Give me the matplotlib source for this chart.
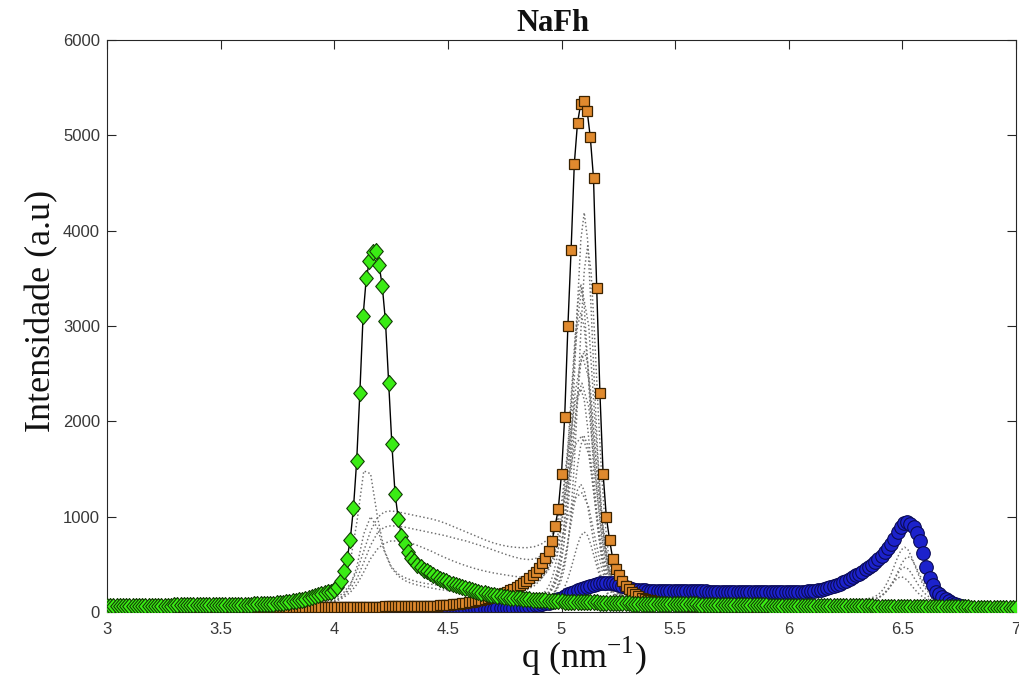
import numpy as np
import matplotlib
matplotlib.use("Agg")
import matplotlib.pyplot as plt

plt.rcParams['mathtext.fontset'] = 'custom'
plt.rcParams['mathtext.rm'] = 'Liberation Serif'

# ---------------- data ----------------
q_min, q_max = 3.0, 7.0

green = [
    64, 64, 64, 64, 65, 65, 65, 65, 65, 66,
    66, 66, 66, 67, 67, 67, 67, 68, 68, 68,
    68, 69, 69, 69, 70, 70, 70, 70, 71, 71,
    71, 72, 72, 72, 73, 73, 74, 74, 75, 75,
    76, 76, 77, 77, 78, 78, 79, 79, 80, 81,
    82, 84, 87, 90, 93, 97, 101, 106, 111, 117,
    124, 131, 139, 148, 158, 168, 178, 188, 197, 206, 215,
    230, 265, 330, 430, 555, 760, 1090, 1580, 2300,
    3100, 3500, 3680, 3780, 3790, 3640, 3420, 3050, 2400, 1760,
    1240, 980, 800, 715, 630, 570, 530, 490, 470, 445,
    425, 405, 385, 368, 350, 335, 320, 307, 295, 283,
    270, 258, 247, 237, 227, 218, 210, 202, 195, 188,
    182, 176, 170, 165, 160, 156, 152, 148, 145, 142,
    139, 136, 133, 130, 128, 125, 123, 121, 119, 117,
    115, 113, 111,
    110, 109, 108, 107, 106, 105, 104, 103, 102, 101,
    100, 99, 98, 97, 96, 95, 94, 93, 92, 91,
    90, 89, 89, 88, 88, 87, 87, 86, 86, 85,
    85, 84, 84, 83, 83, 82, 82, 81, 80, 80,
    79, 79, 78, 78, 77, 77, 76, 76, 75, 75,
    74, 74, 73, 73, 72, 72, 71, 71, 70, 70,
    70, 69, 69, 69, 68, 68, 68, 67, 67, 67,
    66, 66, 66, 65, 65, 65, 64, 64, 64, 63,
    63, 63, 62, 62, 62, 61, 61, 61, 60, 60,
    60, 59, 59, 59, 58, 58, 58, 57, 57, 57,
    56, 56, 56, 55, 55, 55, 54, 54, 54, 53,
    53, 53, 52, 52, 52, 51, 51, 51, 50, 50,
    50, 49, 49, 49, 48, 48, 48, 47, 47, 47,
    46, 46, 46, 46, 45, 45, 45, 45, 45, 45, 45, 45]

orange = [
    45, 45, 45, 45, 45, 45, 45, 46, 46, 46,
    46, 46, 46, 46, 47, 47, 47, 47, 47, 47,
    47, 48, 48, 48, 48, 48, 48, 48, 49, 49,
    49, 49, 49, 49, 49, 50, 50, 50, 50, 50,
    50, 50, 51, 51, 51, 51, 51, 51, 52, 52,
    52, 52, 52, 52, 52, 53, 53, 53, 53, 53,
    53, 53, 54, 54, 54, 54, 54, 54, 54, 55,
    55, 55, 55, 55, 55, 55, 56, 56, 56, 56,
    56, 56, 57, 57, 57, 57, 57, 58, 58, 58,
    58, 59, 59, 59, 60, 60, 60, 61, 61, 62,
    62, 64, 66, 68, 70, 72, 75, 78, 81, 85,
    89, 93, 98, 103, 108, 114, 121, 128, 136, 144,
    153, 163, 174, 186, 199, 213, 228, 244, 262, 282,
    303, 328, 355, 385, 418, 460, 510, 565, 640, 740,
    900, 1080, 1450, 2050, 3000, 3800, 4700, 5130, 5330, 5360,
    5260, 4980, 4550, 3400, 2300, 1450, 1000, 760, 560, 455,
    385, 320, 275, 240, 210, 185, 165, 150, 140, 130,
    122, 115, 108, 102, 97, 92, 88, 84, 80, 77,
    74, 71, 68, 66, 64, 62, 60, 58, 57, 56,
    55, 54, 53, 52, 51, 50, 50, 49, 49, 48,
    48, 47, 47, 47, 46, 46, 46, 45, 45, 45,
    45, 45, 44, 44, 44, 44, 44, 43, 43, 43,
    43, 43, 43, 43, 42, 42, 42, 42, 42, 42,
    42, 42, 42, 41, 41, 41, 41, 41, 41, 41,
    41, 41, 41, 41, 41, 41, 40, 40, 40, 40,
    40, 40, 40, 40, 40, 40, 40, 40, 40, 40,
    40, 40, 40, 40, 40, 40, 40, 40, 40, 40,
    40, 40, 40, 40, 40, 40, 40, 40, 40, 40,
    40, 40, 40, 40, 40]

blue = [
    8, 8, 8, 8, 8, 8, 8, 8, 8, 8,
    8, 8, 8, 9, 9, 9, 9, 9, 9, 9,
    9, 9, 9, 9, 10, 10, 10, 10, 10, 10,
    10, 10, 10, 10, 11, 11, 11, 11, 11, 11,
    11, 11, 12, 12, 12, 12, 12, 12, 12, 13,
    13, 13, 13, 13, 13, 14, 14, 14, 14, 14,
    14, 15, 15, 15, 15, 15, 16, 16, 16, 16,
    16, 17, 17, 17, 17, 18, 18, 18, 18, 19,
    19, 19, 19, 20, 20, 20, 20, 21, 21, 21,
    21, 22, 22, 22, 22, 23, 23, 23, 24, 24,
    24, 25, 25, 25, 26, 26, 26, 27, 27, 28,
    28, 29, 29, 30, 30, 31, 31, 32, 33, 34,
    35, 36, 37, 38, 40, 41, 43, 45, 47, 50,
    53, 56, 60, 64, 69, 75, 82, 90, 99, 110,
    122, 136, 151, 167, 184, 200, 215, 228, 240, 252,
    263, 274, 284, 292, 299, 304, 306, 305, 300, 292,
    282, 271, 260, 250, 242, 236, 231, 228, 226, 225,
    224, 224, 223, 223, 222, 222, 221, 221, 220, 220,
    219, 219, 218, 218, 217, 217, 216, 216, 215, 215,
    214, 214, 213, 213, 212, 212, 211, 211, 210, 210,
    209, 209, 208, 208, 207, 207, 207, 206, 206, 206,
    206, 206, 207, 207, 208, 209, 210, 212, 214, 217,
    220, 224, 229, 235, 242, 250, 260, 271, 284, 298,
    313, 329, 346, 364, 383, 403, 424, 447, 471, 497,
    525, 556, 590, 628, 670, 716, 766, 835, 895, 935,
    940, 925, 890, 830, 740, 620, 470, 360, 280, 215,
    185, 158, 135, 115, 98, 83, 70, 59, 50, 42,
    36, 31, 27, 24, 21, 19, 17, 15, 14, 13,
    12, 12, 11, 11, 11]

# grey dotted curves around the orange peak (q from 4.80 to 5.40)
grey_peak_q = (4.80, 5.40)
grey_peak = [
    [86, 90, 94, 102, 111, 119, 127, 144, 160, 181, 210, 256, 331, 463, 696, 1073, 1638, 2376, 3198, 3902,
     4190, 3902, 3198, 2376, 1638, 1073, 696, 463, 331, 256, 210, 181, 160, 144, 127, 119, 111, 102, 94, 90, 86],
    [80, 82, 86, 89, 97, 105, 112, 120, 135, 150, 169, 196, 238, 306, 428, 640, 986, 1503, 2179, 2932,
     3576, 3840, 3576, 2932, 2179, 1503, 986, 640, 428, 306, 238, 196, 169, 150, 135, 120, 112, 105, 97, 89, 86],
    [81, 84, 91, 98, 105, 111, 125, 139, 156, 179, 217, 278, 387, 577, 887, 1349, 1954, 2627, 3204, 3440,
     3204, 2627, 1954, 1349, 887, 577, 387, 278, 217, 179, 156, 139, 125, 111, 105, 98, 91, 84, 81, 77, 75],
    [93, 99, 105, 113, 122, 133, 149, 167, 195, 235, 300, 406, 567, 812, 1153, 1590, 2092, 2598, 2988, 3140,
     2988, 2598, 2092, 1590, 1153, 812, 567, 406, 300, 235, 195, 167, 149, 133, 122, 113, 105, 99, 93, 88, 83],
    [82, 86, 91, 97, 103, 112, 121, 135, 151, 175, 210, 267, 359, 499, 712, 1009, 1390, 1827, 2268, 2608,
     2740, 2608, 2268, 1827, 1390, 1009, 712, 499, 359, 267, 210, 175, 151, 135, 121, 112, 103, 97, 91, 86, 82],
    [79, 84, 88, 94, 101, 109, 121, 134, 155, 185, 233, 311, 431, 613, 866, 1190, 1563, 1938, 2227, 2340,
     2227, 1938, 1563, 1190, 866, 613, 431, 311, 233, 185, 155, 134, 121, 109, 101, 94, 88, 84, 79, 75, 72],
    [68, 71, 74, 78, 82, 88, 94, 103, 114, 130, 153, 191, 252, 346, 488, 686, 940, 1232, 1525, 1752,
     1840, 1752, 1525, 1232, 940, 686, 488, 346, 252, 191, 153, 130, 114, 103, 94, 88, 82, 78, 74, 71, 68],
    [62, 65, 67, 71, 75, 79, 86, 93, 105, 122, 149, 193, 261, 364, 507, 690, 901, 1113, 1276, 1340,
     1276, 1113, 901, 690, 507, 364, 261, 193, 149, 122, 105, 93, 86, 79, 75, 71, 67, 65, 62, 60, 58],
    [52, 54, 55, 57, 59, 61, 64, 68, 73, 80, 90, 107, 134, 176, 239, 327, 440, 570, 700, 801,
     840, 801, 700, 570, 440, 327, 239, 176, 134, 107, 90, 80, 73, 68, 64, 61, 59, 57, 55, 54, 52],
]

# grey dotted transition curves between the green and orange peaks (q from 3.95 to 5.30)
grey_mid_q = (3.95, 5.30)
grey_mid = [
    [120, 150, 200, 300, 520, 950, 1480, 1450, 1000, 650, 480, 400, 360, 335, 315, 300, 290, 280, 272, 265,
     258, 252, 247, 243, 240, 238, 238, 240, 245, 255, 270, 300, 350, 430, 560, 760, 1000, 1200, 1250, 1100,
     750, 420, 230, 150, 110, 90],
    [100, 120, 150, 200, 290, 430, 640, 850, 990, 1050, 1060, 1050, 1035, 1020, 1005, 990, 975, 955, 930, 900,
     870, 840, 810, 780, 750, 725, 705, 690, 680, 675, 675, 685, 710, 760, 860, 1050, 1400, 1750, 1850, 1650,
     1100, 600, 320, 200, 140, 110],
    [90, 105, 130, 170, 240, 350, 520, 700, 830, 890, 905, 900, 890, 875, 860, 845, 830, 815, 800, 780,
     762, 745, 722, 700, 675, 650, 625, 600, 578, 560, 550, 555, 590, 680, 850, 1150, 1700, 2200, 2400, 2150,
     1400, 750, 380, 220, 150, 115],
    [85, 95, 115, 150, 205, 290, 420, 560, 660, 720, 745, 745, 735, 720, 695, 665, 635, 600, 568, 538,
     510, 485, 462, 442, 425, 410, 398, 386, 375, 366, 360, 362, 385, 450, 600, 900, 1500, 2300, 2700, 2450,
     1600, 850, 420, 240, 160, 120],
    [80, 95, 120, 170, 270, 480, 820, 1000, 880, 640, 470, 380, 330, 300, 280, 265, 250, 238, 228, 220,
     212, 205, 198, 192, 188, 185, 185, 188, 195, 210, 235, 275, 340, 450, 640, 1000, 1800, 2900, 3400, 3000,
     1900, 950, 450, 250, 165, 125],
]

# grey dotted curves under the blue peak (q from 6.30 to 6.75)
grey_blue_q = (6.30, 6.75)
grey_blue = [
    [127, 130, 133, 139, 146, 158, 177, 207, 252, 315, 395, 487, 580, 652, 680, 652, 580, 487, 395, 315,
     252, 207, 177, 158, 146, 139, 133, 130, 127, 124, 121],
    [122, 124, 126, 129, 134, 140, 149, 165, 190, 227, 279, 345, 421, 498, 557, 580, 557, 498, 421, 345,
     279, 227, 190, 165, 149, 140, 134, 129, 126, 124, 122],
    [111, 113, 115, 119, 123, 131, 144, 163, 192, 233, 285, 345, 405, 452, 470, 452, 405, 345, 285, 233,
     192, 163, 144, 131, 123, 119, 115, 113, 111, 110, 108],
    [109, 111, 114, 117, 123, 132, 146, 167, 197, 235, 279, 323, 357, 370, 357, 323, 279, 235, 197, 167,
     146, 132, 123, 117, 114, 111, 109, 108, 107, 106, 105],
]

x_ticks = [3, 3.5, 4, 4.5, 5, 5.5, 6, 6.5, 7]
x_tick_labels = ['3', '3.5', '4', '4.5', '5', '5.5', '6', '6.5', '7']
y_ticks = [0, 1000, 2000, 3000, 4000, 5000, 6000]
y_tick_labels = ['0', '1000', '2000', '3000', '4000', '5000', '6000']

title_text = 'NaFh'
xlabel_text = r'q (nm$^{\mathregular{-1}}$)'
ylabel_text = 'Intensidade (a.u)'

# ---------------- figure ----------------
W, H = 1019, 684
fig = plt.figure(figsize=(W / 100, H / 100), dpi=100)
ax = fig.add_axes([107 / W, 72 / H, 909 / W, 572 / H])

grey_kw = dict(color='#6e6e6e', lw=1.05, ls=':', zorder=1.5)
for (lo, hi), group in ((grey_peak_q, grey_peak), (grey_mid_q, grey_mid), (grey_blue_q, grey_blue)):
    for curve in group:
        ax.plot(np.linspace(lo, hi, len(curve)), curve, **grey_kw)

diamond = [(0, 1), (0.85, 0), (0, -1), (-0.85, 0), (0, 1)]

ax.plot(np.linspace(q_min, q_max, len(blue)), blue, '-', color='k', lw=0.9,
        marker='o', ms=9.8, mfc='#1c22cc', mec='#0b0b55', mew=0.8, zorder=2)
ax.plot(np.linspace(q_min, q_max, len(orange)), orange, '-', color='k', lw=1.0,
        marker='s', ms=6.8, mfc='#e08a2e', mec='#3a2200', mew=0.9, zorder=3)
ax.plot(np.linspace(q_min, q_max, len(green)), green, '-', color='k', lw=1.0,
        marker=diamond, ms=11.5, mfc='#3aec14', mec='#123d05', mew=0.8, zorder=4)

ax.set_xlim(q_min, q_max)
ax.set_ylim(0, 6000)
ax.set_xticks(x_ticks)
ax.set_xticklabels(x_tick_labels)
ax.set_yticks(y_ticks)
ax.set_yticklabels(y_tick_labels)

tick_font = 'Liberation Sans'
ax.tick_params(direction='in', top=True, right=True, length=6.5, width=0.8,
               color='#262626', labelcolor='#383838', labelsize=12)
for lab in ax.get_xticklabels() + ax.get_yticklabels():
    lab.set_fontfamily(tick_font)
ax.tick_params(axis='x', pad=7)
ax.tick_params(axis='y', pad=5)
for sp in ax.spines.values():
    sp.set_color('#262626')
    sp.set_linewidth(0.8)

ax.text(0.491, 1.0166, title_text, transform=ax.transAxes, ha='center', va='baseline',
        fontsize=22, fontweight='bold', family='Liberation Serif', color='#111111')
ax.text(0.525, -0.098, xlabel_text, transform=ax.transAxes, ha='center', va='baseline',
        fontsize=26, family='Liberation Serif', color='#111111')
ax.text(-0.0627, 0.526, ylabel_text, transform=ax.transAxes, ha='center', va='baseline',
        rotation=90, rotation_mode='anchor', fontsize=26, family='Liberation Serif', color='#111111')

fig.savefig('out.png', dpi=100)
